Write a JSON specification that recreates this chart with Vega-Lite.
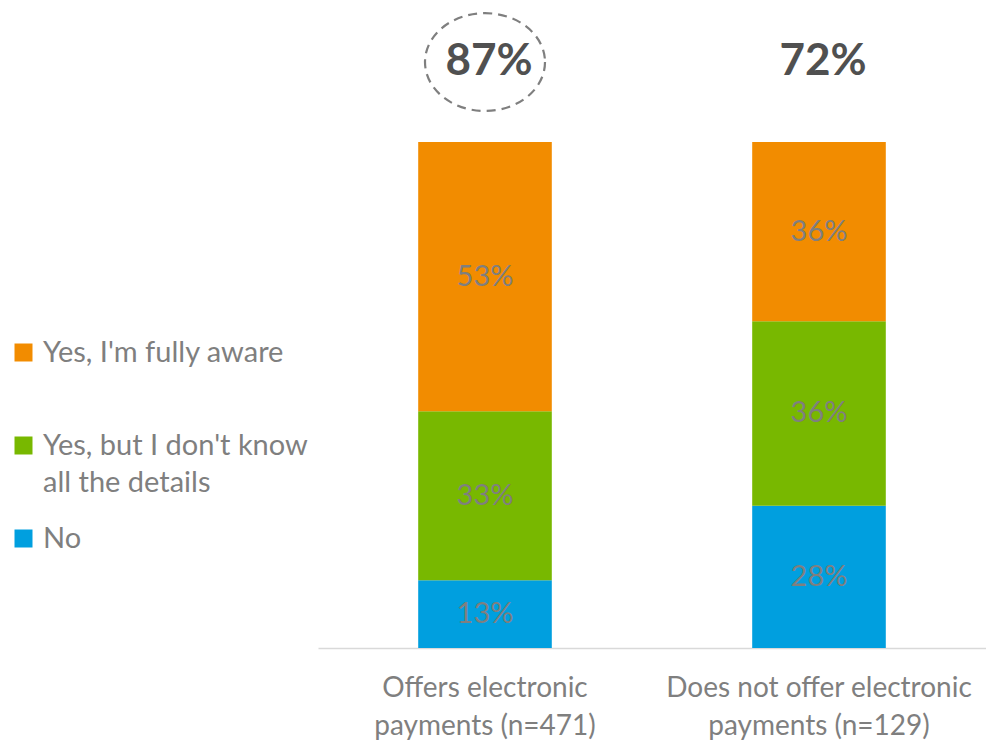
{
  "$schema": "https://vega.github.io/schema/vega-lite/v6.json",
  "width": 668,
  "height": 638,
  "autosize": {"type": "none"},
  "padding": {"left": 318, "top": 10, "right": 0, "bottom": 93},
  "config": {"view": {"stroke": null}, "font": "Lato"},
  "datasets": {
    "segments": [
      {"group": "Offers electronic payments (n=471)", "response": "No", "share": 0.134, "label": "13%", "rank": 1},
      {"group": "Offers electronic payments (n=471)", "response": "Yes, but I don't know all the details", "share": 0.334, "label": "33%", "rank": 2},
      {"group": "Offers electronic payments (n=471)", "response": "Yes, I'm fully aware", "share": 0.532, "label": "53%", "rank": 3},
      {"group": "Does not offer electronic payments (n=129)", "response": "No", "share": 0.281, "label": "28%", "rank": 1},
      {"group": "Does not offer electronic payments (n=129)", "response": "Yes, but I don't know all the details", "share": 0.365, "label": "36%", "rank": 2},
      {"group": "Does not offer electronic payments (n=129)", "response": "Yes, I'm fully aware", "share": 0.354, "label": "36%", "rank": 3}
    ],
    "totals": [
      {"group": "Offers electronic payments (n=471)", "total": "87%", "circled": true},
      {"group": "Does not offer electronic payments (n=129)", "total": "72%", "circled": false}
    ]
  },
  "encoding": {
    "x": {
      "field": "group",
      "type": "nominal",
      "sort": ["Offers electronic payments (n=471)", "Does not offer electronic payments (n=129)"],
      "scale": {"paddingInner": 0.6, "paddingOuter": 0.3},
      "axis": {
        "title": null,
        "labelAngle": 0,
        "ticks": false,
        "domainColor": "#d9d9d9",
        "domainWidth": 1.5,
        "labelFont": "Lato",
        "labelFontSize": 28,
        "labelColor": "#7f7f7f",
        "labelLineHeight": 38,
        "labelPadding": 26,
        "labelLimit": 400,
        "labelExpr": "datum.label == 'Offers electronic payments (n=471)' ? ['Offers electronic', 'payments (n=471)'] : ['Does not offer electronic', 'payments (n=129)']"
      }
    }
  },
  "layer": [
    {
      "data": {"name": "segments"},
      "transform": [
        {"stack": "share", "groupby": ["group"], "sort": [{"field": "rank", "order": "ascending"}], "as": ["y0", "y1"]}
      ],
      "mark": {"type": "bar"},
      "encoding": {
        "y": {"field": "y0", "type": "quantitative", "scale": {"domain": [0, 1.2609], "nice": false, "zero": true}, "axis": null},
        "y2": {"field": "y1"},
        "color": {
          "field": "response",
          "type": "nominal",
          "scale": {
            "domain": ["Yes, I'm fully aware", "Yes, but I don't know all the details", "No"],
            "range": ["#f28c00", "#78b800", "#009fdf"]
          },
          "legend": {
            "orient": "none",
            "legendX": -309,
            "legendY": 328,
            "title": null,
            "symbolType": "square",
            "symbolSize": 324,
            "symbolStrokeWidth": 0,
            "labelFont": "Lato",
            "labelFontSize": 29,
            "labelColor": "#7f7f7f",
            "labelOffset": 5,
            "labelLimit": 400,
            "rowPadding": 26,
            "labelExpr": "datum.label == \"Yes, but I don't know all the details\" ? [\"Yes, but I don't know\", \"all the details\"] : [datum.label, \"\"]",
            "encode": {"labels": {"update": {"lineHeight": {"value": 37}}}}
          }
        }
      }
    },
    {
      "data": {"name": "segments"},
      "transform": [
        {"stack": "share", "groupby": ["group"], "sort": [{"field": "rank", "order": "ascending"}], "as": ["y0", "y1"]},
        {"calculate": "(datum.y0 + datum.y1) / 2", "as": "ymid"}
      ],
      "mark": {"type": "text", "fontSize": 29, "font": "Lato", "color": "#7f7f7f", "baseline": "middle"},
      "encoding": {
        "y": {"field": "ymid", "type": "quantitative"},
        "text": {"field": "label"}
      }
    },
    {
      "data": {"name": "totals"},
      "mark": {"type": "text", "fontSize": 44, "fontWeight": "bold", "font": "Lato", "color": "#505050", "baseline": "middle", "dx": 4},
      "encoding": {
        "y": {"datum": 1.158, "type": "quantitative"},
        "text": {"field": "total"}
      }
    },
    {
      "data": {"name": "totals"},
      "transform": [{"filter": "datum.circled"}],
      "mark": {
        "type": "point",
        "shape": "M1,0C1,0.4501,0.5523,0.815,0,0.815C-0.5523,0.815,-1,0.4501,-1,0C-1,-0.4501,-0.5523,-0.815,0,-0.815C0.5523,-0.815,1,-0.4501,1,0Z",
        "size": 14400,
        "filled": false,
        "stroke": "#7f7f7f",
        "strokeWidth": 2.2,
        "strokeDash": [9, 6],
        "opacity": 1
      },
      "encoding": {
        "y": {"datum": 1.158, "type": "quantitative"}
      }
    }
  ]
}
